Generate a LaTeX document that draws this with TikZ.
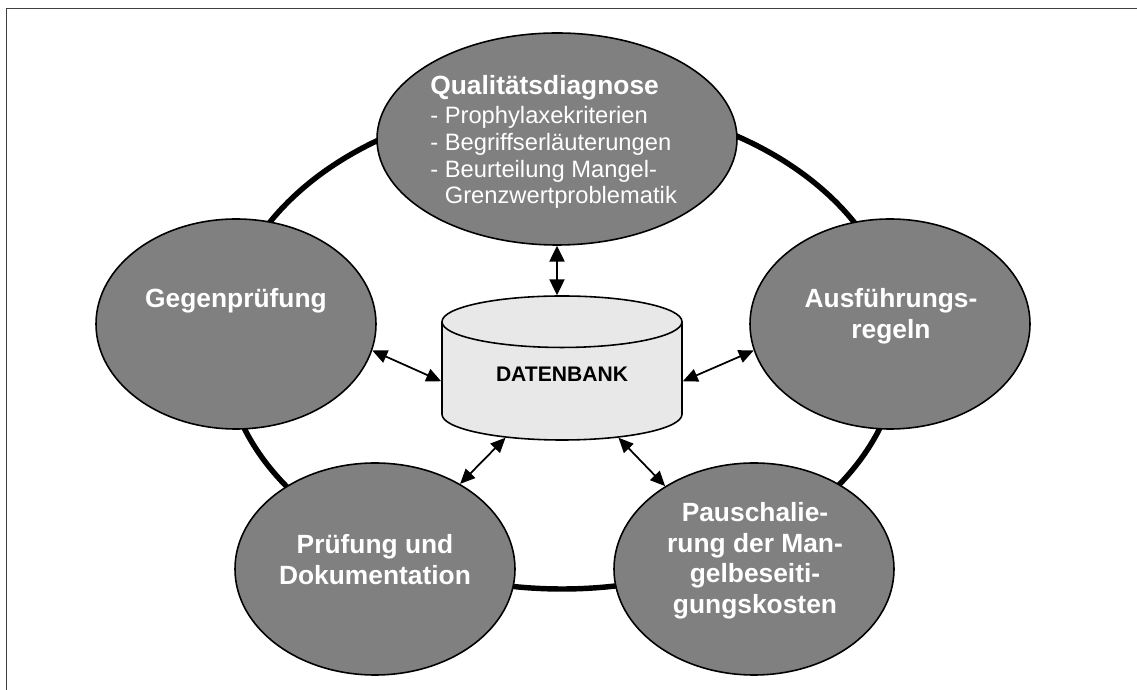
\documentclass[tikz,border=0pt]{standalone}
\usepackage{fontspec}
\setmainfont{Liberation Sans}
\usetikzlibrary{shapes.geometric,arrows.meta}

\definecolor{topicgray}{HTML}{808080}
\definecolor{dbgray}{HTML}{E8E8E8}

\begin{document}
\begin{tikzpicture}[
  frameline/.style={draw=black!75, line width=1.1pt},
  ring/.style={draw=black, line width=3.1pt},
  topic/.style={ellipse, draw=black, line width=0.9pt, fill=topicgray, inner sep=0pt},
  topictxt/.style={text=white, font=\fontsize{15}{17.5}\selectfont\bfseries, align=center, inner sep=0pt, anchor=north},
  listtxt/.style={text=white, font=\fontsize{13.5}{15.2}\selectfont, align=left, inner sep=0pt, anchor=north west},
  dbase/.style={cylinder, shape border rotate=90, aspect=0.39, draw=black, line width=0.9pt, fill=dbgray,
    minimum width=4.8cm, minimum height=2.88cm, inner sep=0pt, text height=8.6pt, text depth=8pt,
    font=\fontsize{12}{14}\selectfont\bfseries},
  link/.style={{Triangle[length=8.5pt,width=7.5pt]}-{Triangle[length=8.5pt,width=7.5pt]}, line width=1pt},
  biglink/.style={{Triangle[length=9pt,width=8.5pt]}-{Triangle[length=9pt,width=8.5pt]}, line width=1.3pt}
]
\useasboundingbox (0,0) rectangle (22.74,13.8);

\draw[frameline] (0.13,0) -- (0.13,13.63) -- (22.74,13.63);

% ring behind the topics
\draw[ring] (11.24,6.90) ellipse [x radius=6.76, y radius=4.88];

\node[topic, minimum width=7.2cm, minimum height=4.24cm] (qual) at (11.14, 11.02) {};
\node[topic, minimum width=5.6cm, minimum height=4.2cm] (gegen) at (4.72, 7.32) {};
\node[topic, minimum width=5.6cm, minimum height=4.2cm] (ausf) at (17.80, 7.32) {};
\node[topic, minimum width=5.6cm, minimum height=4.24cm] (pruef) at (7.50, 2.42) {};
\node[topic, minimum width=5.6cm, minimum height=4.24cm] (pausch) at (15.08, 2.42) {};

\node[listtxt] (qual-txt) at (8.60, 12.30) {{\fontsize{15}{17}\selectfont\bfseries Qualitätsdiagnose}\\[1.5pt]
  - Prophylaxekriterien\\
  - Begriffserläuterungen\\
  - Beurteilung Mangel-\\
  \hphantom{-~}Grenzwertproblematik};
\node[topictxt] (gegen-txt) at (4.72, 8.04) {Gegenprüfung};
\node[topictxt] (ausf-txt) at (17.82, 8.04) {Ausführungs-\\regeln};
\node[topictxt] (pruef-txt) at (7.50, 3.12) {Prüfung und\\Dokumentation};
\node[topictxt] (pausch-txt) at (15.10, 3.76) {Pauschalie-\\rung der Man-\\gelbeseiti-\\gungskosten};

\node[dbase, anchor=shape center] (db) at (11.24, 6.44) {DATENBANK};

\draw[biglink] (qual.south) -- (qual.south |- db.north);
\draw[link] (gegen.-11) -- (db.west);
\draw[link] (db.east) -- (ausf.191);
\draw[link] (db.225) -- (pruef.45);
\draw[link] (db.315) -- (pausch.137);

\end{tikzpicture}
\end{document}
